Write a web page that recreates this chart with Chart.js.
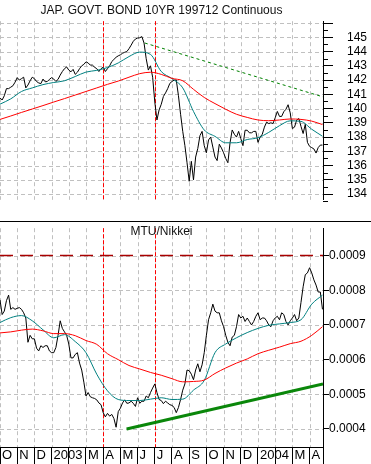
<!DOCTYPE html>
<html><head><meta charset="utf-8">
<script src="https://cdn.jsdelivr.net/npm/chart.js@4"></script>
<style>
html,body{margin:0;padding:0;background:#fff;}
#wrap{position:relative;width:371px;height:464px;overflow:hidden;background:#fff;}
canvas{position:absolute;left:0;}
#c1{top:0;} #c2{top:221px;}
.ttl{position:absolute;left:0;width:323px;text-align:center;font:12px 'Liberation Sans',Arial,sans-serif;line-height:14px;color:#111;pointer-events:none;}
</style></head><body>
<div id="wrap">
<canvas id="c1" width="371" height="221"></canvas>
<canvas id="c2" width="371" height="243"></canvas>
<div class="ttl" style="top:3px">JAP. GOVT. BOND 10YR 199712 Continuous</div>
<div class="ttl" style="top:224px">MTU/Nikkei</div>
</div>
<script>
// ---- data (x in months since 1 Oct 2002) ----
const monthLabels = ['O','N','D','2003','','M','A','M','J','J','A','S','O','N','D','2004','','M','A'];
const X_MAX = 18.78;
const SAMPLE_STEP = 1/8;      // months between price samples
const MA_STEP = 5/8;          // months between moving-average samples
const markerMonths = [6, 9];  // red dashed verticals (Apr, Jul 2003)

const jgbClose = [
140.75,140.6,140.9,141.4,141.4,141.5,141.6,141.85,142.17,142.0,
142.1,142.2,141.45,141.65,141.95,142.2,142.1,141.9,141.8,141.75,
142.07,141.88,141.9,142.05,142.17,142.07,141.9,142.05,142.35,142.6,
142.8,142.92,142.7,142.58,142.75,142.4,142.55,142.8,143.0,143.1,
143.28,143.2,143.05,143.05,142.9,142.8,142.6,142.8,142.9,142.6,
142.8,143.0,143.3,143.45,143.6,143.7,143.77,143.88,143.95,144.0,
144.2,144.45,144.72,144.88,144.95,144.97,145.05,144.6,143.5,142.7,
143.0,142.2,140.46,139.2,139.9,140.3,140.85,141.1,141.4,141.77,
141.9,142.0,142.0,140.9,139.6,138.4,137.4,136.2,134.9,136.3,
135.0,136.6,137.2,138.1,138.4,137.4,136.9,137.8,138.0,137.3,
136.6,136.35,137.5,137.23,136.9,136.5,136.2,137.6,138.5,138.2,
138.0,138.4,137.9,137.4,138.48,138.48,138.3,138.3,138.4,138.4,
137.63,138.0,138.2,138.7,139.05,138.95,139.0,138.95,139.35,139.8,
139.45,139.45,139.78,139.95,140.27,139.7,138.6,138.7,139.2,139.3,
138.75,138.25,138.9,137.63,137.35,137.26,137.17,136.88,137.26,137.44,137.44];
const jgbMaShort = [140.31,140.68,141.2,141.45,141.68,141.83,141.95,142.25,142.56,142.68,142.88,143.2,143.65,143.96,143.8,142.6,142.1,141.45,139.8,138.5,138.05,137.6,137.6,137.83,137.95,138.33,138.8,139.14,139.1,138.55,138.06];
const jgbMaLong = [139.24,139.48,139.73,139.97,140.21,140.46,140.7,140.95,141.2,141.45,141.7,141.93,142.2,142.45,142.55,142.4,142.12,141.95,141.35,140.78,140.35,139.95,139.6,139.38,139.2,139.15,139.2,139.27,139.24,139.12,138.88];
const jgbTrendX = [8.42, 18.78];
const jgbTrendY = [144.6, 140.82];
const jgbTicks = [134,135,136,137,138,139,140,141,142,143,144,145,146];
const jgbMinorTicks = [133.5,134.5,135.5,136.5,137.5,138.5,139.5,140.5,141.5,142.5,143.5,144.5,145.5];

const ratioClose = [
0.000772,0.00073,0.00074,0.00077,0.000786,0.000745,0.00075,0.000745,0.000748,0.00075,
0.000745,0.000735,0.00072,0.00065,0.00067,0.00066,0.00066,0.000633,0.000625,0.00064,
0.000635,0.00064,0.00064,0.000625,0.00062,0.00062,0.000635,0.00067,0.000712,0.00069,
0.00068,0.00067,0.000645,0.000605,0.000605,0.000615,0.00062,0.00059,0.00057,0.000535,
0.000495,0.000505,0.000493,0.00049,0.000488,0.000484,0.000475,0.00047,0.000447,0.000435,
0.000445,0.000437,0.000442,0.00043,0.000405,0.00045,0.00046,0.000475,0.000484,0.000474,
0.000475,0.00048,0.000474,0.000465,0.00049,0.000474,0.00048,0.00048,0.000495,0.00049,
0.000505,0.000518,0.00053,0.000505,0.000485,0.000482,0.000473,0.00048,0.000475,0.00047,
0.000468,0.000462,0.000447,0.000462,0.000485,0.000512,0.00053,0.00057,0.000568,0.000558,
0.000542,0.00057,0.000588,0.000565,0.000585,0.00062,0.00067,0.000715,0.000735,0.00076,
0.00074,0.000735,0.000735,0.000712,0.000695,0.00067,0.00065,0.00064,0.000665,0.00067,
0.000695,0.00073,0.00072,0.000725,0.00071,0.00072,0.00071,0.0007,0.00071,0.000725,
0.000735,0.000715,0.00072,0.00072,0.000712,0.0007,0.000695,0.000712,0.00072,0.000725,
0.000715,0.000735,0.00073,0.00071,0.0007,0.000712,0.00072,0.00073,0.000712,0.00072,
0.000765,0.00081,0.000845,0.00085,0.000865,0.00085,0.00083,0.000815,0.000795,0.000795,0.000745];
const ratioMaShort = [0.000707,0.000721,0.000727,0.000712,0.000686,0.000663,0.000672,0.000652,0.00062,0.000558,0.00051,0.000485,0.000482,0.000482,0.000486,0.00049,0.000485,0.000486,0.000512,0.00054,0.00062,0.000645,0.000663,0.000678,0.00069,0.000699,0.000703,0.000707,0.000715,0.00076,0.000786];
const ratioMaLong = [0.000677,0.00068,0.000685,0.000688,0.000683,0.000675,0.000675,0.000669,0.000655,0.000644,0.000617,0.0006,0.000583,0.000573,0.000563,0.000555,0.000545,0.000536,0.000537,0.000541,0.00056,0.000576,0.00059,0.000602,0.000617,0.000627,0.000636,0.000646,0.000653,0.00067,0.000695];
const ratioTrendX = [7.36, 18.78];
const ratioTrendY = [0.0004, 0.00053];
const ratioLevel = 0.0009;
const ratioTicks = [0.0004,0.0005,0.0006,0.0007,0.0008,0.0009];

// ---- helpers ----
const GRID = '#c0c0c0';
const series = (ys, step) => ys.map((y, i) => ({x: i * step, y}));
const pairs = (xs, ys) => xs.map((x, i) => ({x, y: ys[i]}));
const monthTickObjs = () => monthLabels.map((_, i) => ({value: i})).concat([{value: X_MAX}]);

Chart.defaults.font.family = "'Liberation Sans', Arial, sans-serif";
Chart.defaults.font.size = 12;
Chart.defaults.color = '#000';

function seg(ctx, x1, y1, x2, y2) { ctx.beginPath(); ctx.moveTo(x1, y1); ctx.lineTo(x2, y2); ctx.stroke(); }

const overlay = {
  id: 'overlay',
  beforeDatasetsDraw(chart) {
    const ctx = chart.ctx, a = chart.chartArea, x = chart.scales.x, y = chart.scales.y;
    ctx.save();
    ctx.lineWidth = 1;
    ctx.strokeStyle = GRID;
    ctx.setLineDash([4, 3]);
    x.ticks.forEach(t => {
      if (t.value >= X_MAX) return;
      const px = Math.round(x.getPixelForValue(t.value)) + 0.5;
      seg(ctx, px, a.top, px, a.bottom);
    });
    y.ticks.forEach(t => {
      const py = Math.round(y.getPixelForValue(t.value)) + 0.5;
      if (py < a.top || py > a.bottom) return;
      seg(ctx, a.left, py, a.right, py);
    });
    ctx.strokeStyle = '#ff0000';
    ctx.setLineDash([4, 2]);
    markerMonths.forEach(m => {
      const px = Math.round(x.getPixelForValue(m)) + 0.5;
      seg(ctx, px, a.top, px, a.bottom);
    });
    ctx.restore();
  },
  afterDatasetsDraw(chart) {
    const ctx = chart.ctx, a = chart.chartArea, y = chart.scales.y;
    const o = (chart.options.plugins && chart.options.plugins.overlay) || {};
    ctx.save();
    ctx.strokeStyle = '#000';
    ctx.lineWidth = 1;
    ctx.setLineDash([]);
    (o.minor || []).forEach(v => {
      const py = Math.round(y.getPixelForValue(v)) + 0.5;
      seg(ctx, a.right, py, a.right + 5, py);
    });
    if (o.topRule) seg(ctx, 0, 0.5, chart.width, 0.5);
    ctx.restore();
  }
};

const lineDs = (data, color, width, extra) => Object.assign({
  data, borderColor: color, borderWidth: width, pointRadius: 0, fill: false, tension: 0
}, extra || {});

function xScale(showLabels) {
  return {
    type: 'linear', min: 0, max: X_MAX,
    afterBuildTicks: s => { s.ticks = monthTickObjs(); },
    afterFit: s => { s.height = showLabels ? 17 : 0; },
    ticks: {
      display: showLabels, autoSkip: false, maxRotation: 0, minRotation: 0,
      align: 'start', labelOffset: 2, padding: -16,
      font: {size: 13},
      callback: (v, i) => (i < monthLabels.length ? monthLabels[i] : '')
    },
    grid: {drawOnChartArea: false, color: '#000', tickColor: '#000', drawTicks: showLabels, tickLength: 17, lineWidth: 1},
    border: {display: showLabels, color: '#000'}
  };
}

new Chart(document.getElementById('c1'), {
  type: 'line',
  data: {datasets: [
    lineDs(pairs(jgbTrendX, jgbTrendY), '#008000', 1, {borderDash: [3, 3], order: 0}),
    lineDs(series(jgbMaLong, MA_STEP), '#ff0000', 1, {cubicInterpolationMode: 'monotone', order: 1}),
    lineDs(series(jgbMaShort, MA_STEP), '#008080', 1, {cubicInterpolationMode: 'monotone', order: 2}),
    lineDs(series(jgbClose, SAMPLE_STEP), '#000000', 1, {order: 3})
  ]},
  options: {
    responsive: false, animation: false, devicePixelRatio: 1,
    layout: {padding: 0},
    plugins: {legend: {display: false}, tooltip: {enabled: false}, overlay: {minor: jgbMinorTicks}},
    scales: {
      x: xScale(false),
      y: {
        position: 'right', min: 133.6, max: 146.13,
        afterBuildTicks: s => { s.ticks = jgbTicks.map(v => ({value: v})); },
        afterFit: s => { s.width = 48; },
        ticks: {autoSkip: false, padding: 14, callback: v => (v === 146 ? '' : String(v))},
        grid: {drawOnChartArea: false, color: '#000', tickColor: '#000', tickLength: 10},
        border: {display: true, color: '#000'}
      }
    }
  },
  plugins: [overlay]
});

new Chart(document.getElementById('c2'), {
  type: 'line',
  data: {datasets: [
    lineDs(pairs(ratioTrendX, ratioTrendY), '#0a870a', 3, {order: 0}),
    lineDs(pairs([0, X_MAX], [ratioLevel, ratioLevel]), '#a80000', 1.5, {borderDash: [13, 7], order: 0}),
    lineDs(series(ratioMaLong, MA_STEP), '#ff0000', 1, {cubicInterpolationMode: 'monotone', order: 1}),
    lineDs(series(ratioMaShort, MA_STEP), '#008080', 1, {cubicInterpolationMode: 'monotone', order: 2}),
    lineDs(series(ratioClose, SAMPLE_STEP), '#000000', 1, {order: 3})
  ]},
  options: {
    responsive: false, animation: false, devicePixelRatio: 1,
    layout: {padding: 0},
    plugins: {legend: {display: false}, tooltip: {enabled: false}, overlay: {topRule: true}},
    scales: {
      x: xScale(true),
      y: {
        position: 'right', min: 0.000348, max: 0.000979,
        afterBuildTicks: s => { s.ticks = ratioTicks.map(v => ({value: v})); },
        afterFit: s => { s.width = 48; },
        ticks: {autoSkip: false, padding: 0, callback: v => Number(v).toFixed(4)},
        grid: {drawOnChartArea: false, color: '#000', tickColor: '#000', tickLength: 6},
        border: {display: true, color: '#000'}
      }
    }
  },
  plugins: [overlay]
});
</script>
</body></html>
